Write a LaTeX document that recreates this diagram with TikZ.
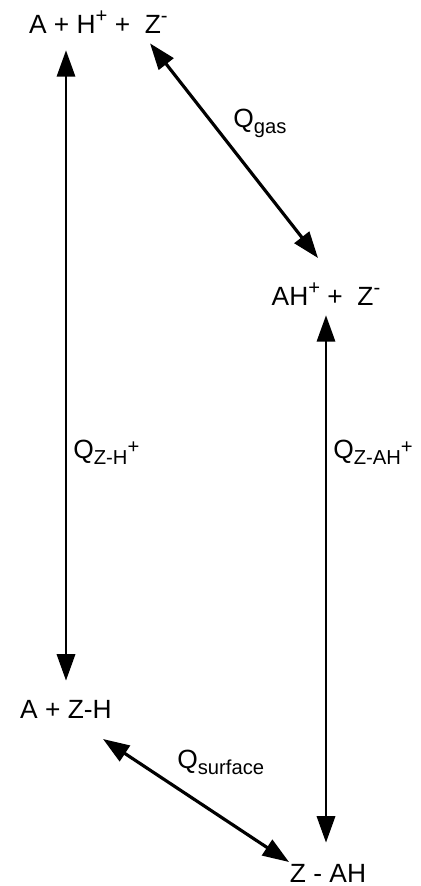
\documentclass[tikz,border=0pt]{standalone}
\usepackage{fontspec}
\setmainfont{Liberation Sans}
\usepackage{tikz}
\usetikzlibrary{arrows.meta}
% charges and subscripts of the species
\newcommand{\chup}[1]{\raisebox{6pt}{\fontsize{11.5}{12}\selectfont #1}}
\newcommand{\chdn}[1]{\raisebox{-3.5pt}{\fontsize{11.5}{12}\selectfont #1}}

\begin{document}
\begin{tikzpicture}[
    x=0.02cm, y=-0.02cm,
    species/.style={inner sep=0pt, anchor=base, font=\fontsize{15}{18}\selectfont},
    qlabel/.style={inner sep=0pt, anchor=base west, font=\fontsize{15}{18}\selectfont},
    equil/.style={{Triangle[length=15pt,width=10.5pt]}-{Triangle[length=15pt,width=10.5pt]}, line width=1.1pt},
    equilthick/.style={equil, line width=1.8pt},
]
\useasboundingbox (0,0) rectangle (420,886);
% ---------- species ----------
\node[species, anchor=base east] (top) at (168,33) {A + H\chup{+} +\ \ Z\chup{-}};
\node[species] (ahz) at (326,305) {AH\chup{+} +\ \ Z\chup{-}};
\node[species] (azh) at (66,718)  {A + Z-H};
\node[species] (zah) at (328,882) {Z - AH};
% ---------- equilibria ----------
\draw[equil, shorten <=0.34cm, shorten >=0.38cm] (azh.north |- top.south) -- (azh.north);
\draw[equil, shorten <=0.2cm, shorten >=0.42cm] (ahz.south) -- (ahz.south |- zah.north);
\draw[equilthick] ([xshift=-0.36cm,yshift=-0.2cm]top.south east) -- ([xshift=-0.16cm,yshift=0.94cm]ahz.base);
\draw[equilthick] ([xshift=0.74cm,yshift=-0.42cm]azh.base) -- ([xshift=-0.78cm,yshift=0.4cm]zah.base);
% ---------- labels ----------
\node[qlabel] (qgas)  at (233,127) {Q\chdn{gas}};
\node[qlabel] (qzh)   at (73,458)  {Q\chdn{Z-H\chup{+}}};
\node[qlabel] (qzah)  at (333,458) {Q\chdn{Z-AH\chup{+}}};
\node[qlabel] (qsurf) at (177,768) {Q\chdn{surface}};
\end{tikzpicture}
\end{document}
